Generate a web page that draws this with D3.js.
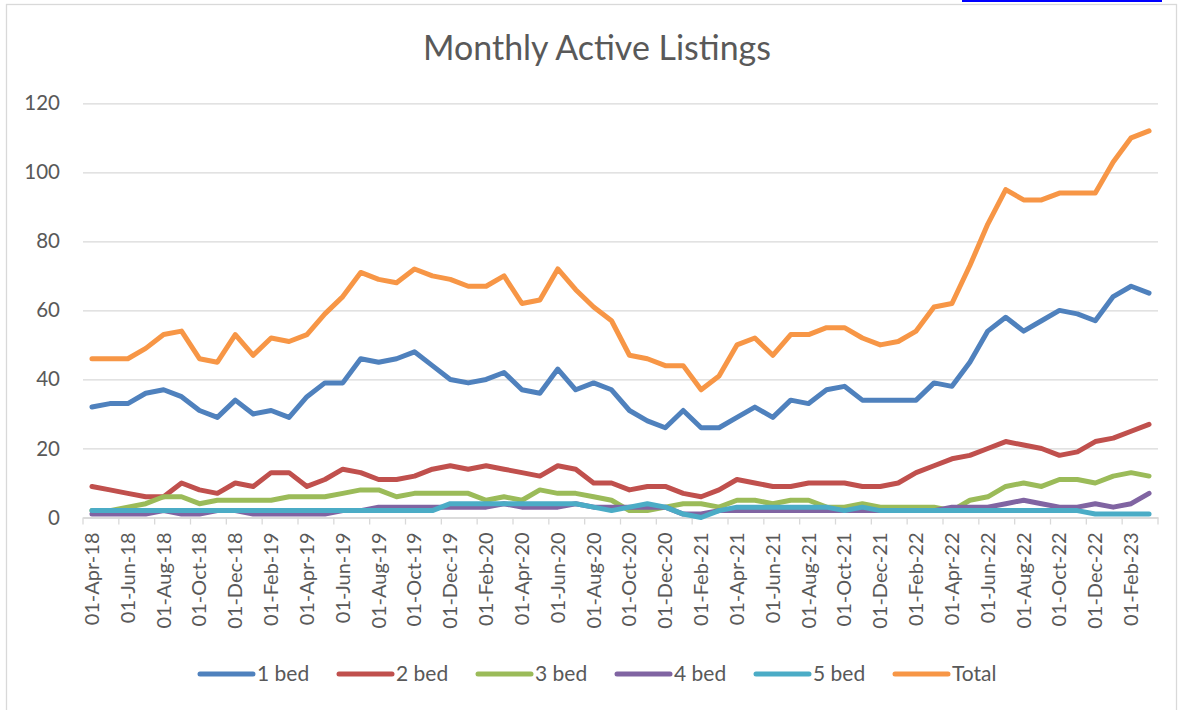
<!DOCTYPE html>
<html>
<head>
<meta charset="utf-8">
<script src="https://cdn.jsdelivr.net/npm/d3@7"></script>
<style>
  body { margin: 0; background: #fff; }
  svg text { font-family: Lato, "Open Sans", sans-serif; fill: #595959; }
</style>
</head>
<body>
<div id="chart"></div>
<script>
// monthly categories, Apr-2018 .. Mar-2023
let months = [
  "01-Apr-18","01-May-18","01-Jun-18","01-Jul-18","01-Aug-18","01-Sep-18","01-Oct-18","01-Nov-18","01-Dec-18",
  "01-Jan-19","01-Feb-19","01-Mar-19","01-Apr-19","01-May-19","01-Jun-19","01-Jul-19","01-Aug-19","01-Sep-19",
  "01-Oct-19","01-Nov-19","01-Dec-19","01-Jan-20","01-Feb-20","01-Mar-20","01-Apr-20","01-May-20","01-Jun-20",
  "01-Jul-20","01-Aug-20","01-Sep-20","01-Oct-20","01-Nov-20","01-Dec-20","01-Jan-21","01-Feb-21","01-Mar-21",
  "01-Apr-21","01-May-21","01-Jun-21","01-Jul-21","01-Aug-21","01-Sep-21","01-Oct-21","01-Nov-21","01-Dec-21",
  "01-Jan-22","01-Feb-22","01-Mar-22","01-Apr-22","01-May-22","01-Jun-22","01-Jul-22","01-Aug-22","01-Sep-22",
  "01-Oct-22","01-Nov-22","01-Dec-22","01-Jan-23","01-Feb-23","01-Mar-23"
];

let bed1 = [32,33,33,36,37,35,31,29,34,30,31,29,35,39,39, 46,45,46,48,44,40,39,40,42,37,36,43,37,39,37,
            31,28,26,31,26,26,29,32,29,34,33,37,38,34,34, 34,34,39,38,45,54,58,54,57,60,59,57,64,67,65];
let bed2 = [9,8,7,6,6,10,8,7,10,9,13,13,9,11,14, 13,11,11,12,14,15,14,15,14,13,12,15,14,10,10,
            8,9,9,7,6,8,11,10,9,9,10,10,10,9,9, 10,13,15,17,18,20,22,21,20,18,19,22,23,25,27];
let bed3 = [2,2,3,4,6,6,4,5,5,5,5,6,6,6,7, 8,8,6,7,7,7,7,5,6,5,8,7,7,6,5,
            2,2,3,4,4,3,5,5,4,5,5,3,3,4,3, 3,3,3,2,5,6,9,10,9,11,11,10,12,13,12];
let bed4 = [1,1,1,1,2,1,1,2,2,1,1,1,1,1,2, 2,3,3,3,3,3,3,3,4,3,3,3,4,3,3,
            3,3,3,1,1,2,2,2,2,2,2,2,2,2,2, 2,2,2,3,3,3,4,5,4,3,3,4,3,4,7];
let bed5 = [2,2,2,2,2,2,2,2,2,2,2,2,2,2,2, 2,2,2,2,2,4,4,4,4,4,4,4,4,3,2,
            3,4,3,1,0,2,3,3,3,3,3,3,2,3,2, 2,2,2,2,2,2,2,2,2,2,2,1,1,1,1];
let total = [46,46,46,49,53,54,46,45,53,47,52,51,53,59,64, 71,69,68,72,70,69,67,67,70,62,63,72,66,61,57,
             47,46,44,44,37,41,50,52,47,53,53,55,55,52,50, 51,54,61,62,73,85,95,92,92,94,94,94,103,110,112];

let seriesNames = ["1 bed", "2 bed", "3 bed", "4 bed", "5 bed", "Total"];
let seriesValues = [bed1, bed2, bed3, bed4, bed5, total];
let yTicks = [0, 20, 40, 60, 80, 100, 120];

let colors = ["#4f81bd", "#c0504d", "#9bbb59", "#8064a2", "#4bacc6", "#f79646"];

let width = 1183, height = 710;
let plot = {left: 83, right: 1158, top: 103.3, bottom: 517.5};

let svg = d3.select("#chart")
    .append("svg")
    .attr("width", width)
    .attr("height", height);

// chart frame
svg.append("rect")
    .attr("x", 6.5).attr("y", 4.5)
    .attr("width", 1170).attr("height", 720)
    .attr("fill", "none")
    .attr("stroke", "#d9d9d9")
    .attr("stroke-width", 1.3);

// link highlight from the page above the chart
svg.append("rect")
    .attr("x", 962).attr("y", 0)
    .attr("width", 200).attr("height", 2)
    .attr("fill", "#0000ff");

let x = d3.scaleBand()
    .domain(months)
    .range([plot.left, plot.right]);

let y = d3.scaleLinear()
    .domain([0, 120])
    .range([plot.bottom, plot.top]);

// gridlines + y labels
let yAxis = svg.append("g")
    .attr("transform", `translate(${plot.left}, 0)`)
    .call(d3.axisLeft(y).tickValues(yTicks).tickSize(-(plot.right - plot.left)).tickPadding(23));
yAxis.select(".domain").remove();
yAxis.selectAll("line").attr("stroke", "#d9d9d9").attr("stroke-width", 1.3);
yAxis.selectAll("text")
    .style("font-size", "20.5px")
    .style("font-family", "Lato, sans-serif")
    .attr("fill", "#595959");

// x axis: labels every 2nd month, ticks on category boundaries
let labelMonths = months.filter(function(d, i) { return i % 2 == 0 });
let xAxis = svg.append("g")
    .attr("transform", `translate(0, ${plot.bottom})`)
    .call(d3.axisBottom(x).tickValues(labelMonths).tickSize(0).tickPadding(0));
xAxis.select(".domain")
    .attr("stroke", "#d9d9d9")
    .attr("stroke-width", 1.3);
xAxis.selectAll("text")
    .attr("transform", "rotate(-90)")
    .attr("x", -15)
    .attr("y", 0)
    .attr("dy", "0.35em")
    .style("text-anchor", "end")
    .style("font-size", "20px")
    .style("font-family", "Lato, sans-serif")
    .attr("fill", "#595959");

let boundaries = labelMonths.map(function(d) { return x(d) });
boundaries.push(plot.right);
svg.append("g").selectAll("line")
    .data(boundaries)
    .enter()
    .append("line")
    .attr("x1", function(d) { return d })
    .attr("x2", function(d) { return d })
    .attr("y1", plot.bottom)
    .attr("y2", plot.bottom + 7)
    .attr("stroke", "#d9d9d9")
    .attr("stroke-width", 1.3);

// series lines
let line = d3.line()
    .x(function(d, i) { return x(months[i]) + x.bandwidth() / 2 })
    .y(function(d) { return y(d) });

svg.append("g").selectAll("path")
    .data(seriesValues)
    .enter()
    .append("path")
    .attr("d", function(d) { return line(d) })
    .attr("fill", "none")
    .attr("stroke", function(d, i) { return colors[i] })
    .attr("stroke-width", 5)
    .attr("stroke-linejoin", "round")
    .attr("stroke-linecap", "round");

// title
let title = svg.append("text")
    .attr("x", 597)
    .attr("y", 60)
    .style("text-anchor", "middle")
    .style("font-size", "33px")
    .text("Monthly Active Listings");
let tw = title.node().getComputedTextLength();
title.style("font-size", (33 * 348 / tw) + "px");

// legend
let legend = svg.append("g").selectAll("g")
    .data(seriesNames)
    .enter()
    .append("g")
    .attr("transform", function(d, i) { return `translate(${200 + i * 139}, 674)` });

legend.append("line")
    .attr("x1", 0).attr("x2", 53)
    .attr("y1", 0).attr("y2", 0)
    .attr("stroke", function(d, i) { return colors[i] })
    .attr("stroke-width", 5)
    .attr("stroke-linecap", "round");

legend.append("text")
    .attr("x", 57)
    .attr("y", 0)
    .attr("dy", "0.35em")
    .style("font-size", "21px")
    .text(function(d) { return d });
</script>
</body>
</html>
